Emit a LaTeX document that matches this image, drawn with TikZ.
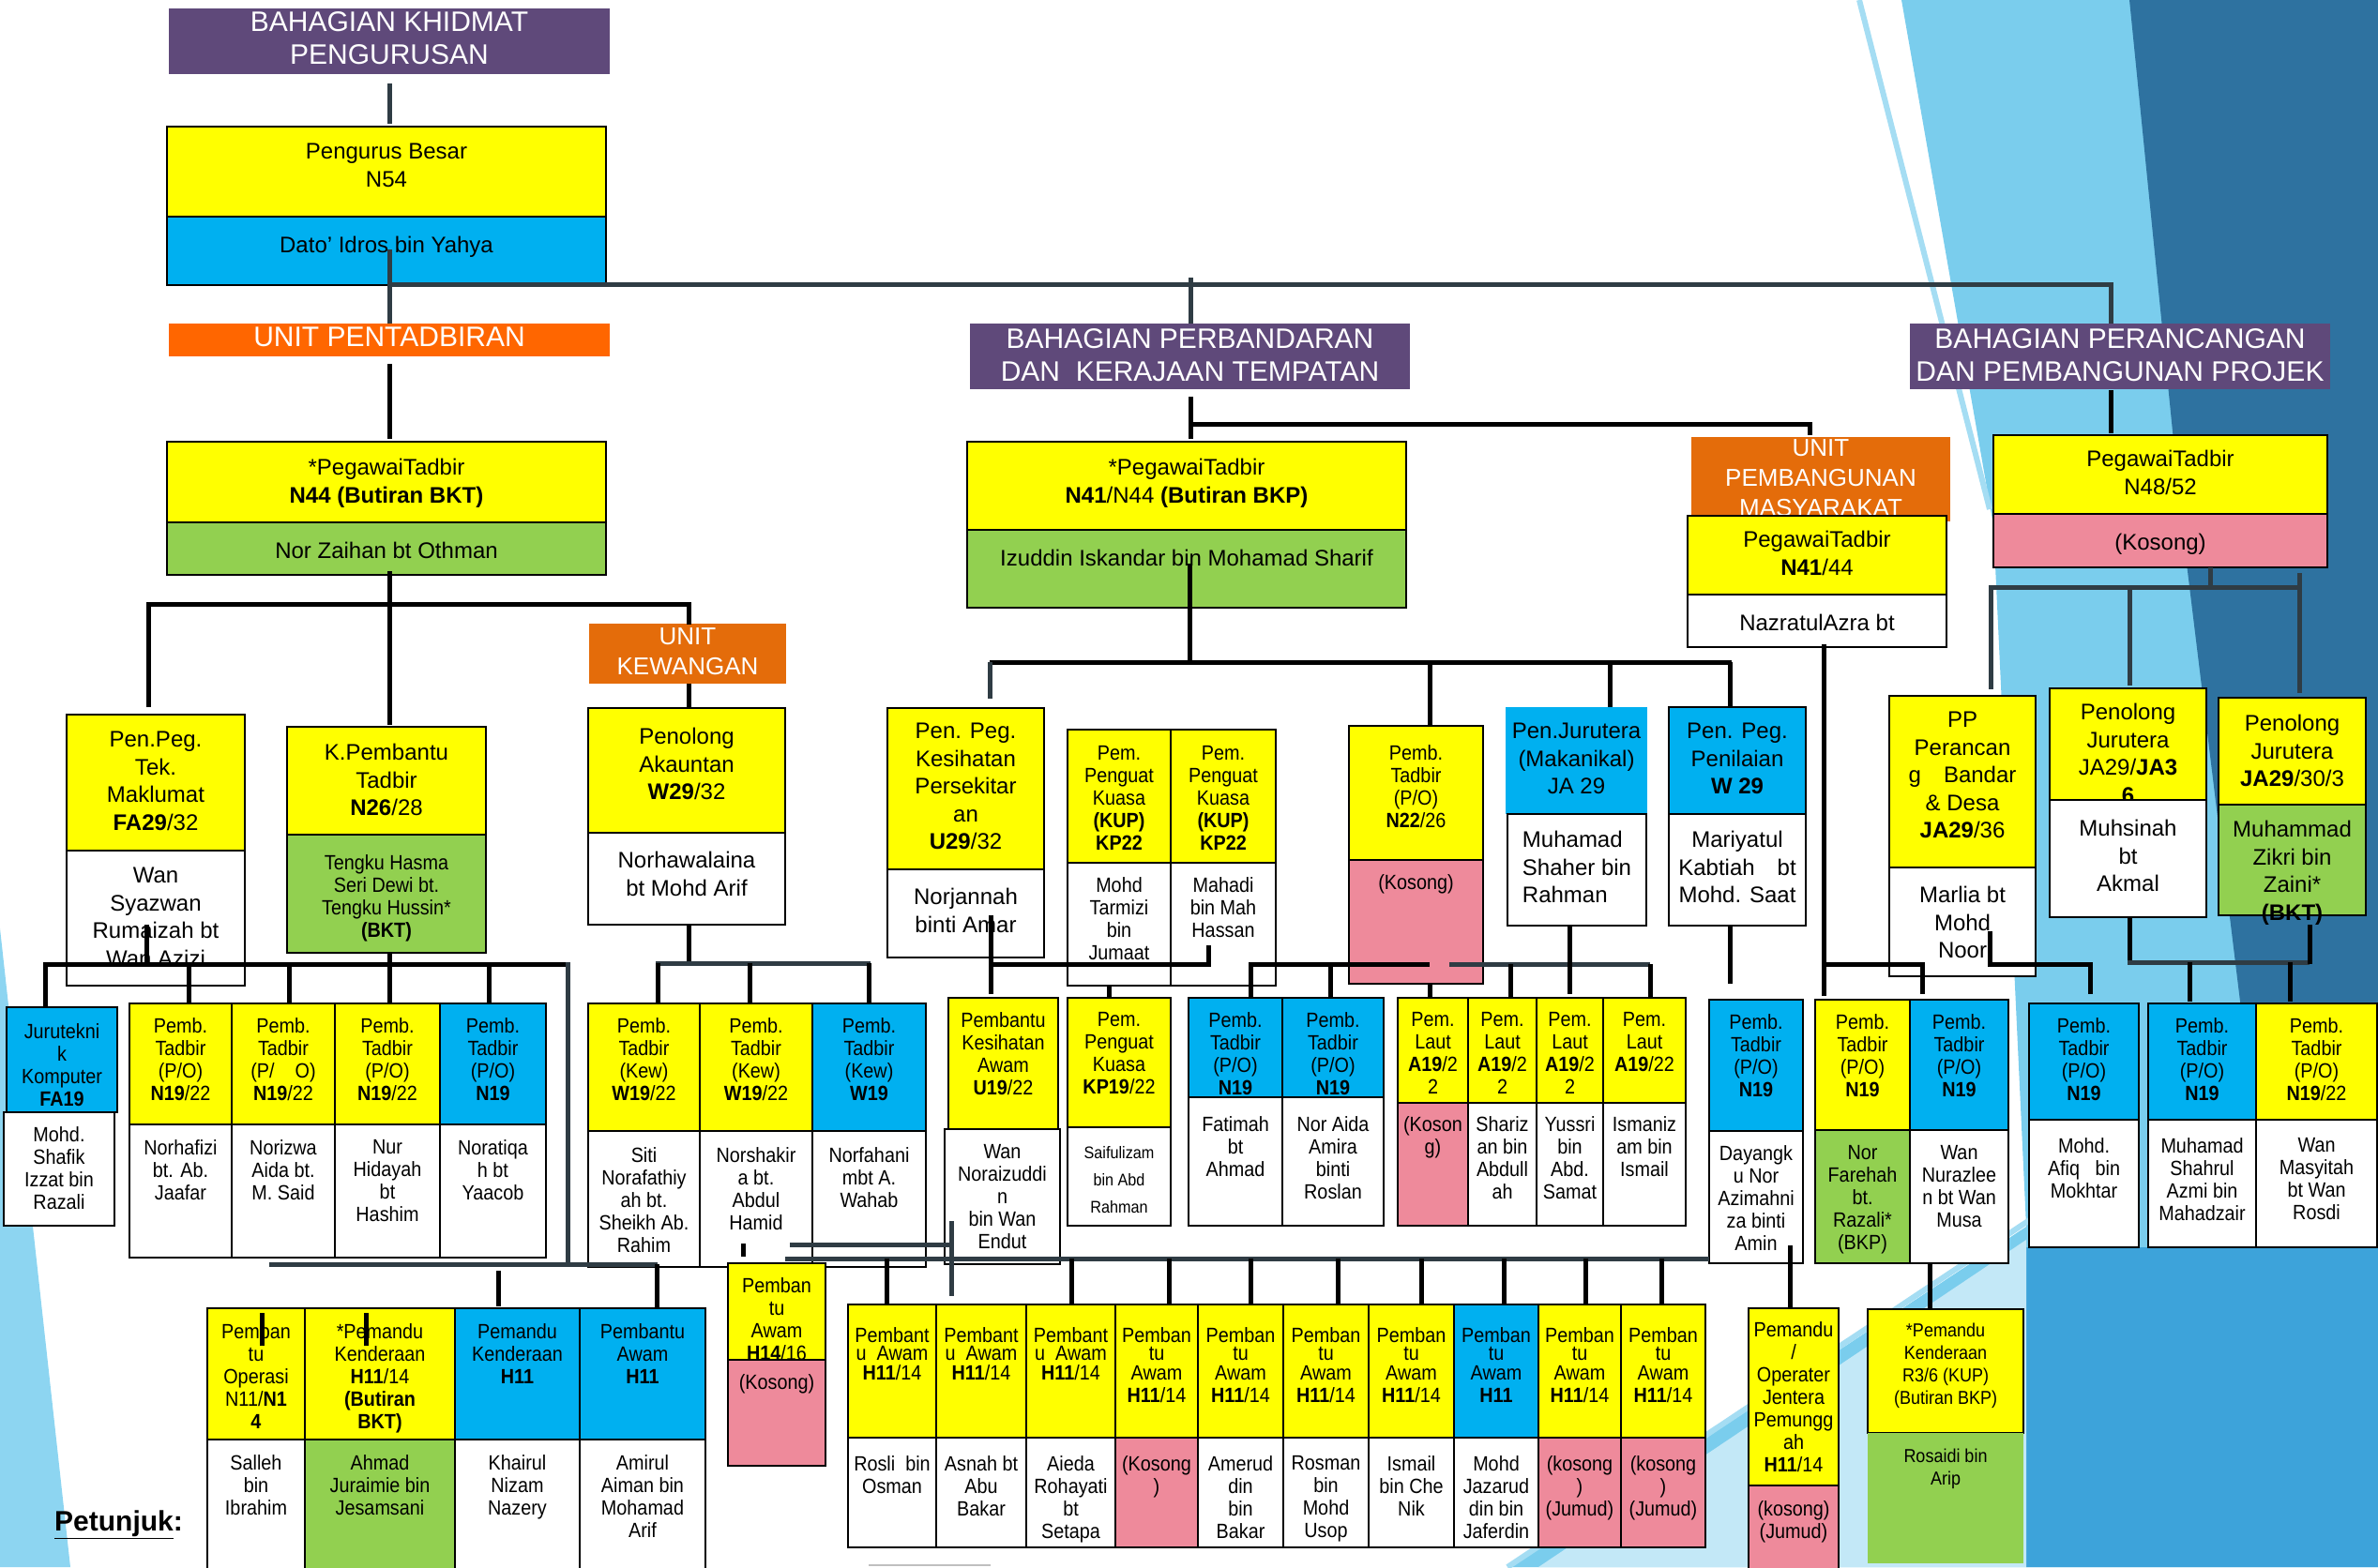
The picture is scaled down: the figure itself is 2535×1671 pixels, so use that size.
\documentclass[tikz,border=0pt]{standalone}
\usepackage{fontspec}
\setmainfont{Liberation Sans}
\newfontfamily\cnd{Liberation Sans}[FakeStretch=0.9]
\definecolor{yel}{HTML}{FFFF00}
\definecolor{blu}{HTML}{00B0F0}
\definecolor{grn}{HTML}{92D050}
\definecolor{pnk}{HTML}{EE8A9B}
\definecolor{purp}{HTML}{5F497A}
\definecolor{orA}{HTML}{FF6600}
\definecolor{orB}{HTML}{E46C0A}
\definecolor{dk}{HTML}{2F3C44}
\definecolor{bgA}{HTML}{7ACDED}
\definecolor{bgD}{HTML}{2E72A0}
\definecolor{bgM}{HTML}{3DA3DA}
\definecolor{bgP}{HTML}{C3E8F7}
\definecolor{bgS}{HTML}{A5DDF3}
\definecolor{bgL}{HTML}{8DD5F1}
\tikzset{
 bx/.style={draw=black,line width=2.5pt,inner sep=0pt,outer sep=0pt,anchor=north west},
 ln/.style={line width=5pt,draw=black},
 dl/.style={line width=5pt,draw=dk},
 tx/.style={inner sep=0pt,anchor=north,align=center},
 tT/.style={tx,font=\fontsize{30}{35}\selectfont,text=white,yshift=11pt},
 tU/.style={tx,font=\fontsize{26}{32}\selectfont,text=white,yshift=9.5pt},
 tL/.style={tx,font=\fontsize{24}{29.5}\selectfont,yshift=9pt},
 tS/.style={tx,font=\cnd\fontsize{22}{24}\selectfont,yshift=8pt},
 tX/.style={tx,font=\cnd\fontsize{18}{29}\selectfont,yshift=7pt},
 tR/.style={tx,font=\cnd\fontsize{20}{24}\selectfont,yshift=7.5pt},
}
\newcommand\ocell[9]{%
 \node[bx,fill=#6,minimum width=#4pt-#2pt,minimum height=#5pt-#3pt] (#1) at (#2,#3) {};
 \node[#7] (#1t) at ({(#2+#4)/2},#8) {#9};}
\newcommand\ptN{Pemb.\\Tadbir\\(P/O)\\\textbf{N19}}
\newcommand\ptNN{Pemb.\\Tadbir\\(P/O)\\\textbf{N19}/22}
\newcommand\pAw{Pembant\\[-5pt]u~~Awam\\[-3pt]\textbf{H11}/14}
\newcommand\pAt{Pemban\\[-5pt]tu\\[-3pt]Awam\\\textbf{H11}/14}
\begin{document}
\begin{tikzpicture}[x=1pt,y=-1pt]
\useasboundingbox (0,0) rectangle (2535,1671);
% background
\fill[bgA] (2027,0) -- (2535,0) -- (2535,1671) -- (1610,1671) -- (2160,1308) -- (2125,560) -- cycle;
\fill[bgD] (2270,0) -- (2535,0) -- (2535,1300) -- (2420,1330) -- (2326,560) -- cycle;
\fill[bgM] (2160,1330) -- (2420,1330) -- (2535,1300) -- (2535,1671) -- (2160,1671) -- cycle;
\fill[bgP] (1640,1671) -- (2160,1322) -- (2160,1671) -- cycle;
\draw[bgS,line width=6pt] (1982,0) -- (2121,543);
\draw[bgS,line width=6pt] (1607,1671) -- (2165,1300);
\fill[bgL] (0,990) -- (75,1671) -- (0,1671) -- cycle;
% top
\ocell{khid}{180}{9}{650}{79}{purp,draw=none}{tT}{23}{BAHAGIAN KHIDMAT\\PENGURUSAN}
\ocell{peng}{178}{135}{646}{231}{yel}{tL}{162}{Pengurus Besar\\N54}
\ocell{dato}{178}{231}{646}{304}{blu}{tL}{261}{Dato’ Idros bin Yahya}
\ocell{upent}{180}{345}{650}{380}{orA,draw=none}{tT}{360}{UNIT PENTADBIRAN}
\ocell{pt44}{178}{471}{646}{557}{yel}{tL}{498}{*PegawaiTadbir\\\textbf{N44 (Butiran BKT)}}
\ocell{zaih}{178}{557}{646}{613}{grn}{tL}{587}{Nor Zaihan bt Othman}
\ocell{perb}{1034}{345}{1503}{415}{purp,draw=none}{tT}{361}{BAHAGIAN PERBANDARAN\\DAN~ KERAJAAN TEMPATAN}
\ocell{peran}{2036}{345}{2484}{415}{purp,draw=none}{tT}{361}{BAHAGIAN PERANCANGAN\\DAN PEMBANGUNAN PROJEK}
\ocell{pt41}{1031}{471}{1499}{565}{yel}{tL}{498}{*PegawaiTadbir\\\textbf{N41}/N44 \textbf{(Butiran BKP)}}
\ocell{izud}{1031}{565}{1499}{648}{grn}{tL}{595}{Izuddin Iskandar bin Mohamad Sharif}
\ocell{upm}{1803}{466}{2079}{556}{orB,draw=none}{tU}{478}{UNIT\\PEMBANGUNAN\\MASYARAKAT}
\ocell{ptpm}{1799}{550}{2075}{634}{yel}{tL}{575}{PegawaiTadbir\\\textbf{N41}/44}
\ocell{nazr}{1799}{634}{2075}{690}{white}{tL}{664}{NazratulAzra bt}
\ocell{pt48}{2125}{464}{2481}{548}{yel}{tL}{489}{PegawaiTadbir\\N48/52}
\ocell{kos48}{2125}{548}{2481}{605}{pnk}{tL}{578}{(Kosong)}
% unit pentadbiran
\ocell{ukew}{628}{665}{838}{729}{orB,draw=none}{tU}{679}{UNIT\\KEWANGAN}
\ocell{ppeg}{71}{762}{261}{907}{yel}{tL}{789}{Pen.Peg.\\Tek.\\Maklumat\\\textbf{FA29}/32}
\ocell{syaz}{71}{907}{261}{1051}{white}{tL}{934}{Wan\\Syazwan\\Rumaizah bt\\Wan Azizi}
\ocell{kpem}{306}{775}{518}{890}{yel}{tL}{802}{K.Pembantu\\Tadbir\\\textbf{N26}/28}
\ocell{hasma}{306}{890}{518}{1016}{grn}{tS}{919}{Tengku Hasma\\Seri Dewi bt.\\Tengku Hussin*\\\textbf{(BKT)}}
\ocell{akaun}{627}{755}{837}{888}{yel}{tL}{785}{Penolong\\Akauntan\\\textbf{W29}/32}
\ocell{norha}{627}{888}{837}{986}{white}{tL}{917}{Norhawalaina\\bt Mohd Arif}
\ocell{jtk}{7}{1074}{125}{1186}{blu}{tS}{1099}{Jurutekni\\k\\Komputer\\\textbf{FA19}}
\ocell{shaf}{4}{1186}{122}{1307}{white}{tS}{1209}{Mohd.\\Shafik\\Izzat bin\\Razali}
\ocell{pa}{138}{1070}{247}{1199}{yel}{tS}{1093}{\ptNN}
\ocell{pb}{247}{1070}{357}{1199}{yel}{tS}{1093}{Pemb.\\Tadbir\\(P/\quad O)\\\textbf{N19}/22}
\ocell{pc}{357}{1070}{469}{1199}{yel}{tS}{1093}{\ptNN}
\ocell{pd}{469}{1070}{582}{1199}{blu}{tS}{1093}{\ptN}
\ocell{na}{138}{1199}{247}{1341}{white}{tS}{1223}{Norhafizi\\bt. Ab.\\Jaafar}
\ocell{nb}{247}{1199}{357}{1341}{white}{tS}{1223}{Norizwa\\Aida bt.\\M. Said}
\ocell{nc}{357}{1199}{469}{1341}{white}{tS}{1223}{Nur\\Hidayah\\bt\\Hashim}
\ocell{nd}{469}{1199}{582}{1341}{white}{tS}{1223}{Noratiqa\\h bt\\Yaacob}
\ocell{ka}{627}{1070}{746}{1206}{yel}{tS}{1093}{Pemb.\\Tadbir\\(Kew)\\\textbf{W19}/22}
\ocell{kb}{746}{1070}{866}{1206}{yel}{tS}{1093}{Pemb.\\Tadbir\\(Kew)\\\textbf{W19}/22}
\ocell{kc}{866}{1070}{987}{1206}{blu}{tS}{1093}{Pemb.\\Tadbir\\(Kew)\\\textbf{W19}}
\ocell{kna}{627}{1206}{746}{1351}{white}{tS}{1231}{Siti\\Norafathiy\\ah bt.\\Sheikh Ab.\\Rahim}
\ocell{knb}{746}{1206}{866}{1351}{white}{tS}{1231}{Norshakir\\a bt.\\Abdul\\Hamid}
\ocell{knc}{866}{1206}{987}{1351}{white}{tS}{1231}{Norfahani\\mbt A.\\Wahab}
\ocell{pop}{221}{1395}{325}{1535}{yel}{tS}{1419}{Pemban\\tu\\Operasi\\N11/\textbf{N1}\\\textbf{4}}
\ocell{sall}{221}{1535}{325}{1676}{white}{tS}{1559}{Salleh\\bin\\Ibrahim}
\ocell{pk1}{325}{1395}{485}{1535}{yel}{tS}{1419}{*Pemandu\\Kenderaan\\\textbf{H11}/14\\\textbf{(Butiran}\\\textbf{BKT)}}
\ocell{ahm}{325}{1535}{485}{1676}{grn}{tS}{1559}{Ahmad\\Juraimie bin\\Jesamsani}
\ocell{pk2}{485}{1395}{618}{1535}{blu}{tS}{1419}{Pemandu\\Kenderaan\\\textbf{H11}}
\ocell{khai}{485}{1535}{618}{1676}{white}{tS}{1559}{Khairul\\Nizam\\Nazery}
\ocell{paw}{618}{1395}{752}{1535}{blu}{tS}{1419}{Pembantu\\Awam\\\textbf{H11}}
\ocell{amir}{618}{1535}{752}{1676}{white}{tS}{1559}{Amirul\\Aiman bin\\Mohamad\\Arif}
\ocell{pa14}{776}{1347}{880}{1450}{yel}{tS}{1370}{Pemban\\tu\\Awam\\\textbf{H14}/16}
\ocell{kos14}{776}{1450}{880}{1563}{pnk}{tS}{1473}{(Kosong)}
% perbandaran row 1
\ocell{pkes}{946}{755}{1113}{927}{yel}{tL}{780}{Pen. Peg.\\Kesihatan\\Persekitar\\an\\\textbf{U29}/32}
\ocell{norj}{946}{927}{1113}{1021}{white}{tL}{956}{Norjannah\\binti Amar}
\ocell{kup1}{1138}{778}{1248}{920}{yel}{tS}{803}{Pem.\\Penguat\\Kuasa\\\textbf{(KUP)}\\\textbf{KP22}}
\ocell{tarm}{1138}{920}{1248}{1051}{white}{tS}{943}{Mohd\\Tarmizi\\bin\\Jumaat}
\ocell{kup2}{1248}{778}{1360}{920}{yel}{tS}{803}{Pem.\\Penguat\\Kuasa\\\textbf{(KUP)}\\\textbf{KP22}}
\ocell{maha}{1248}{920}{1360}{1051}{white}{tS}{943}{Mahadi\\bin Mah\\Hassan}
\ocell{pt22}{1438}{774}{1581}{917}{yel}{tS}{802}{Pemb.\\Tadbir\\(P/O)\\\textbf{N22}/26}
\ocell{kos22}{1438}{917}{1581}{1049}{pnk}{tS}{940}{(Kosong)}
\ocell{pjur}{1605}{754}{1756}{868}{blu,draw=none}{tL}{780}{Pen.Jurutera\\(Makanikal)\\JA 29}
\ocell{shah}{1607}{868}{1755}{987}{white}{tL,align=left}{895}{Muhamad\\Shaher bin\\Rahman}
\ocell{pnil}{1779}{754}{1925}{868}{blu}{tL}{780}{Pen. Peg.\\Penilaian\\\textbf{W 29}}
\ocell{mari}{1779}{868}{1925}{987}{white}{tL}{895}{Mariyatul\\Kabtiah\quad bt\\Mohd. Saat}
% perbandaran row 2
\ocell{pkaw}{1011}{1064}{1128}{1204}{yel}{tS}{1087}{Pembantu\\Kesihatan\\Awam\\\textbf{U19}/22}
\ocell{nora}{1007}{1204}{1130}{1348}{white}{tS}{1228}{Wan\\Noraizuddi\\n\\bin Wan\\Endut}
\ocell{kp19}{1138}{1064}{1248}{1202}{yel}{tS}{1087}{Pem.\\Penguat\\Kuasa\\\textbf{KP19}/22}
\ocell{saif}{1138}{1202}{1248}{1307}{white}{tX}{1229}{Saifulizam\\bin Abd\\Rahman}
\ocell{po1}{1267}{1064}{1367}{1170}{blu}{tS}{1087}{\ptN}
\ocell{fati}{1267}{1170}{1367}{1307}{white}{tS}{1198}{Fatimah\\bt\\Ahmad}
\ocell{po2}{1367}{1064}{1475}{1170}{blu}{tS}{1087}{\ptN}
\ocell{nai}{1367}{1170}{1475}{1307}{white}{tS}{1198}{Nor Aida\\Amira\\binti\\Roslan}
\ocell{la}{1490}{1064}{1565}{1176}{yel}{tS}{1087}{Pem.\\Laut\\\textbf{A19}/2\\2}
\ocell{lb}{1565}{1064}{1638}{1176}{yel}{tS}{1087}{Pem.\\Laut\\\textbf{A19}/2\\2}
\ocell{lc}{1638}{1064}{1709}{1176}{yel}{tS}{1087}{Pem.\\Laut\\\textbf{A19}/2\\2}
\ocell{ld}{1709}{1064}{1797}{1176}{yel}{tS}{1087}{Pem.\\Laut\\\textbf{A19}/22}
\ocell{lna}{1490}{1176}{1565}{1307}{pnk}{tS}{1198}{(Koson\\g)}
\ocell{lnb}{1565}{1176}{1638}{1307}{white}{tS}{1198}{Shariz\\an bin\\Abdull\\ah}
\ocell{lnc}{1638}{1176}{1709}{1307}{white}{tS}{1198}{Yussri\\bin\\Abd.\\Samat}
\ocell{lnd}{1709}{1176}{1797}{1307}{white}{tS}{1198}{Ismaniz\\am bin\\Ismail}
% perbandaran row 3
\ocell{ha}{904}{1391}{998}{1533}{yel}{tS}{1423}{\pAw}
\ocell{hb}{998}{1391}{1094}{1533}{yel}{tS}{1423}{\pAw}
\ocell{hc}{1094}{1391}{1189}{1533}{yel}{tS}{1423}{\pAw}
\ocell{hd}{1189}{1391}{1277}{1533}{yel}{tS}{1423}{\pAt}
\ocell{he}{1277}{1391}{1368}{1533}{yel}{tS}{1423}{\pAt}
\ocell{hf}{1368}{1391}{1459}{1533}{yel}{tS}{1423}{\pAt}
\ocell{hg}{1459}{1391}{1550}{1533}{yel}{tS}{1423}{\pAt}
\ocell{hh}{1550}{1391}{1640}{1533}{blu}{tS}{1423}{Pemban\\[-5pt]tu\\[-3pt]Awam\\\textbf{H11}}
\ocell{hi}{1640}{1391}{1728}{1533}{yel}{tS}{1423}{\pAt}
\ocell{hj}{1728}{1391}{1818}{1533}{yel}{tS}{1423}{\pAt}
\ocell{hna}{904}{1533}{998}{1650}{white}{tS}{1560}{Rosli~~bin\\Osman}
\ocell{hnb}{998}{1533}{1094}{1650}{white}{tS}{1560}{Asnah bt\\Abu\\Bakar}
\ocell{hnc}{1094}{1533}{1189}{1650}{white}{tS}{1560}{Aieda\\Rohayati\\bt\\Setapa}
\ocell{hnd}{1189}{1533}{1277}{1650}{pnk}{tS}{1560}{(Kosong\\)}
\ocell{hne}{1277}{1533}{1368}{1650}{white}{tS}{1560}{Amerud\\din\\bin\\Bakar}
\ocell{hnf}{1368}{1533}{1459}{1650}{white}{tS}{1560}{Rosman\\bin\\Mohd\\Usop}
\ocell{hng}{1459}{1533}{1550}{1650}{white}{tS}{1560}{Ismail\\bin Che\\Nik}
\ocell{hnh}{1550}{1533}{1640}{1650}{white}{tS}{1560}{Mohd\\Jazarud\\din bin\\Jaferdin}
\ocell{hni}{1640}{1533}{1728}{1650}{pnk}{tS}{1560}{(kosong\\)\\(Jumud)}
\ocell{hnj}{1728}{1533}{1818}{1650}{pnk}{tS}{1560}{(kosong\\)\\(Jumud)}
% right side
\ocell{po3}{1822}{1066}{1922}{1206}{blu}{tS}{1089}{\ptN}
\ocell{daya}{1822}{1206}{1922}{1347}{white}{tS}{1229}{Dayangk\\u Nor\\Azimahni\\za binti\\Amin}
\ocell{opj}{1864}{1395}{1960}{1584}{yel}{tS}{1417}{Pemandu\\/\\Operater\\Jentera\\Pemungg\\ah\\\textbf{H11}/14}
\ocell{opjk}{1864}{1584}{1960}{1676}{pnk}{tS}{1608}{(kosong)\\(Jumud)}
\ocell{po4}{1935}{1066}{2036}{1205}{yel}{tS}{1089}{\ptN}
\ocell{po5}{2036}{1066}{2141}{1205}{blu}{tS}{1089}{\ptN}
\ocell{fare}{1935}{1205}{2036}{1347}{grn}{tS}{1229}{Nor\\Farehah\\bt.\\Razali*\\(BKP)}
\ocell{nura}{2036}{1205}{2141}{1347}{white}{tS}{1229}{Wan\\Nurazlee\\n bt Wan\\Musa}
\ocell{pkr}{1991}{1396}{2157}{1528}{yel}{tR}{1418}{*Pemandu\\Kenderaan\\R3/6 (KUP)\\(Butiran BKP)}
\ocell{rosa}{1991}{1528}{2157}{1667}{grn,draw=none}{tR}{1552}{Rosaidi bin\\Arip}
\ocell{ppb}{2014}{742}{2170}{925}{yel}{tL}{768}{PP\\Perancan\\g\quad Bandar\\\& Desa\\\textbf{JA29}/36}
\ocell{marl}{2014}{925}{2170}{1041}{white}{tL}{954}{Marlia bt\\Mohd\\Noor}
\ocell{pj1}{2185}{734}{2352}{853}{yel}{tL}{759}{Penolong\\Jurutera\\JA29/\textbf{JA3}\\\textbf{6}}
\ocell{muhs}{2185}{853}{2352}{978}{white}{tL}{883}{Muhsinah\\bt\\Akmal}
\ocell{pj2}{2365}{744}{2522}{858}{yel}{tL}{771}{Penolong\\Jurutera\\\textbf{JA29}/30/3}
\ocell{zikr}{2365}{858}{2522}{976}{grn}{tL}{884}{Muhammad\\Zikri bin\\Zaini*\\\textbf{(BKT)}}
\ocell{po6}{2163}{1070}{2280}{1194}{blu}{tS}{1093}{\ptN}
\ocell{afiq}{2163}{1194}{2280}{1330}{white}{tS}{1221}{Mohd.\\Afiq~~~bin\\Mokhtar}
\ocell{po7}{2290}{1070}{2405}{1194}{blu}{tS}{1093}{\ptN}
\ocell{shru}{2290}{1194}{2405}{1330}{white}{tS}{1221}{Muhamad\\Shahrul\\Azmi bin\\Mahadzair}
\ocell{po8}{2405}{1070}{2534}{1194}{yel}{tS}{1093}{\ptNN}
\ocell{masy}{2405}{1194}{2534}{1330}{white}{tS}{1221}{Wan\\Masyitah\\bt Wan\\Rosdi}
% legend
\node[anchor=west,inner sep=0pt,font=\fontsize{30}{34}\selectfont\bfseries] (pet) at (58,1626) {\underline{Petunjuk}:};
\draw[gray!50,line width=2pt] (926,1669) -- (1056,1669);
% connectors top
\draw[dl] (415,89) -- (415,132);
\draw[dl] (415,266) -- (415,345);
\draw[dl] (415,303) -- (2250,303) -- (2250,345);
\draw[dl] (1269,296) -- (1269,345);
\draw[ln] (415,388) -- (415,468);
\draw[ln] (1269,423) -- (1269,468);
\draw[ln] (1269,452) -- (1929,452) -- (1929,464);
\draw[ln] (2250,416) -- (2250,462);
% pentadbiran
\draw[ln] (415,609) -- (415,773);
\draw[ln] (158,754) -- (158,644) -- (734,644) -- (734,666);
\draw[ln] (734,729) -- (734,755);
\draw[ln] (156,986) -- (156,1028);
\draw[ln] (48,1074) -- (48,1028) -- (605,1028);
\draw[ln] (201,1028) -- (201,1070);
\draw[ln] (308,1028) -- (308,1070);
\draw[ln] (415,1016) -- (415,1070);
\draw[ln] (521,1028) -- (521,1070);
\draw[dl] (605,1026) -- (605,1348);
\draw[dl] (287,1348) -- (701,1348);
\draw[ln] (531,1355) -- (531,1393);
\draw[ln] (700,1348) -- (700,1395);
\draw[ln] (279,1400) -- (279,1435);
\draw[ln] (390,1400) -- (390,1435);
\draw[ln] (734,986) -- (734,1027);
\draw[dl] (699,1027) -- (928,1027);
\draw[ln] (701,1027) -- (701,1070);
\draw[ln] (799,1027) -- (799,1070);
\draw[ln] (926,1027) -- (926,1070);
\draw[ln] (792,1326) -- (792,1340);
\draw[dl] (842,1327) -- (1013,1327);
\draw[dl] (1014,1302) -- (1014,1382);
\draw[dl] (837,1342) -- (1822,1342);
\foreach \xx in {945,1142,1246,1333,1426,1515,1603,1690,1771} {\draw[ln] (\xx,1342) -- (\xx,1391);}
% perbandaran
\draw[ln] (1268,601) -- (1268,706);
\draw[ln] (1055,706) -- (1846,706);
\draw[dl] (1055,706) -- (1055,745);
\draw[ln] (1524,706) -- (1524,774);
\draw[ln] (1716,706) -- (1716,754);
\draw[ln] (1844,706) -- (1844,754);
\draw[ln] (1844,987) -- (1844,1049);
\draw[ln] (1056,976) -- (1056,1060);
\draw[ln] (1056,1028) -- (1288,1028) -- (1288,1008);
\draw[ln] (1182,1051) -- (1182,1064);
\draw[ln] (1333,1064) -- (1333,1028) -- (1524,1028);
\draw[ln] (1418,1028) -- (1418,1064);
\draw[ln] (1524,1049) -- (1524,1064);
\draw[dl] (1545,1028) -- (1759,1028);
\draw[ln] (1610,1028) -- (1610,1064);
\draw[ln] (1673,987) -- (1673,1060);
\draw[ln] (1759,1028) -- (1759,1064);
% right
\draw[ln] (1944,687) -- (1944,1062);
\draw[ln] (1944,1028) -- (2049,1028) -- (2049,1060);
\draw[ln] (1908,1328) -- (1908,1396);
\draw[ln] (2057,1347) -- (2057,1396);
\draw[dl] (2356,605) -- (2356,626);
\draw[dl] (2122,735) -- (2122,626) -- (2453,626);
\draw[dl] (2270,626) -- (2270,731);
\draw[dl] (2451,611) -- (2451,739);
\draw[ln] (2121,993) -- (2121,1028) -- (2228,1028) -- (2228,1060);
\draw[ln] (2270,978) -- (2270,1028);
\draw[dl] (2268,1026) -- (2462,1026);
\draw[ln] (2462,986) -- (2462,1028);
\draw[ln] (2334,1026) -- (2334,1068);
\draw[ln] (2441,1026) -- (2441,1068);
\end{tikzpicture}
\end{document}
